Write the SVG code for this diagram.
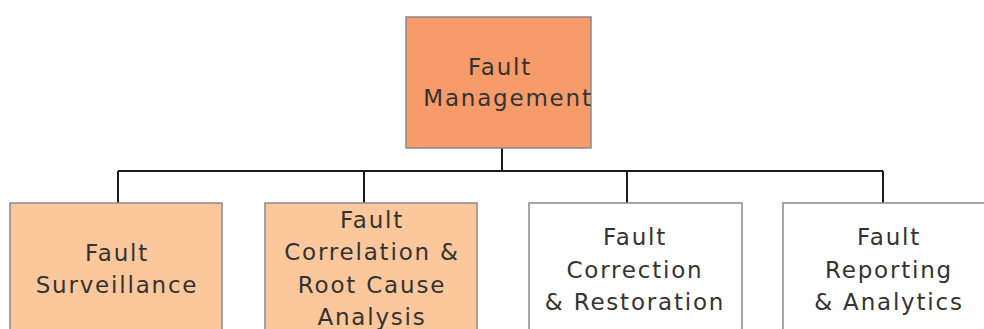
<svg xmlns="http://www.w3.org/2000/svg" width="984" height="329" viewBox="0 0 984 329">
<style>
.box{stroke:#8a8a8a;stroke-width:1.5}
.top{fill:#F79B6B}
.peach{fill:#FCC89B}
.white{fill:#ffffff}
.conn{stroke:#1a1a1a;stroke-width:2;fill:none}
text{font-family:"DejaVu Sans",Verdana,sans-serif;font-size:23px;fill:#333333;text-anchor:middle;letter-spacing:1.8px}
</style>
<rect width="984" height="329" fill="#ffffff"/>
<g id="connectors">
<path class="conn" d="M502 148 V171 M118 171 H883 M118 171 V204 M364 171 V204 M627 171 V204 M883 171 V204"/>
</g>
<g id="fault-management">
<rect class="box top" x="406" y="17" width="185" height="131"/>
<text x="500" y="75">Fault</text>
<text x="508" y="106">Management</text>
</g>
<g id="fault-surveillance">
<rect class="box peach" x="10" y="203" width="212" height="140"/>
<text x="117" y="261">Fault</text>
<text x="117" y="293">Surveillance</text>
</g>
<g id="fault-correlation">
<rect class="box peach" x="265" y="203" width="212" height="140"/>
<text x="372" y="228">Fault</text>
<text x="372" y="260">Correlation &amp;</text>
<text x="372" y="293">Root Cause</text>
<text x="372" y="325">Analysis</text>
</g>
<g id="fault-correction">
<rect class="box white" x="529" y="203" width="213" height="140"/>
<text x="635" y="245">Fault</text>
<text x="635" y="278">Correction</text>
<text x="635" y="310">&amp; Restoration</text>
</g>
<g id="fault-reporting">
<rect class="box white" x="783" y="203" width="213" height="140"/>
<text x="889" y="245">Fault</text>
<text x="889" y="278">Reporting</text>
<text x="889" y="310">&amp; Analytics</text>
</g>
</svg>
